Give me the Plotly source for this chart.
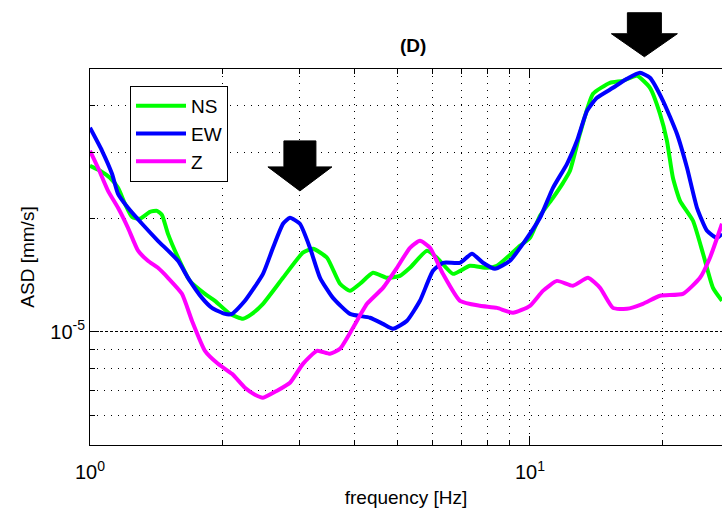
import numpy as np
import plotly.graph_objects as go

# ---------------- data ----------------
freq_ns = [1.000, 1.054, 1.110, 1.158, 1.201, 1.246, 1.299, 1.369, 1.420, 1.457,
           1.504, 1.602, 1.687, 1.825, 1.923, 2.081, 2.227, 2.334, 2.473, 2.746,
           3.048, 3.213, 3.457, 3.700, 3.899, 4.108, 4.398, 4.732, 5.065, 5.337,
           5.833, 6.147, 6.683, 7.305, 7.985, 8.414, 9.490, 10.00, 10.54, 11.28,
           11.89, 12.33, 12.99, 13.91, 15.20, 16.27, 17.51, 18.74, 19.75, 20.48,
           21.13, 21.93, 23.47, 24.74, 26.06, 27.32]
asd_ns = [2.764e-5, 2.681e-5, 2.568e-5, 2.415e-5, 2.190e-5, 2.022e-5, 1.998e-5, 2.085e-5, 2.098e-5, 2.047e-5,
          1.822e-5, 1.535e-5, 1.366e-5, 1.262e-5, 1.209e-5, 1.116e-5, 1.083e-5, 1.116e-5, 1.187e-5, 1.392e-5,
          1.623e-5, 1.663e-5, 1.574e-5, 1.342e-5, 1.285e-5, 1.342e-5, 1.435e-5, 1.392e-5, 1.409e-5, 1.480e-5,
          1.643e-5, 1.574e-5, 1.426e-5, 1.498e-5, 1.480e-5, 1.498e-5, 1.693e-5, 1.778e-5, 2.035e-5, 2.272e-5,
          2.490e-5, 2.681e-5, 3.363e-5, 4.295e-5, 4.594e-5, 4.651e-5, 4.796e-5, 4.456e-5, 3.800e-5, 3.221e-5,
          2.568e-5, 2.231e-5, 1.974e-5, 1.613e-5, 1.309e-5, 1.209e-5]

freq_ew = [1.000, 1.065, 1.122, 1.158, 1.220, 1.313, 1.427, 1.585, 1.670, 1.797,
           1.893, 2.027, 2.102, 2.250, 2.473, 2.606, 2.746, 2.848, 3.000, 3.162,
           3.333, 3.566, 3.899, 4.329, 4.634, 4.883, 5.254, 5.623, 6.019, 6.343,
           6.933, 7.382, 7.820, 8.326, 9.006, 9.641, 10.54, 11.28, 12.14, 12.79,
           13.48, 14.20, 15.44, 16.61, 17.78, 18.74, 20.06, 21.58, 22.75, 23.97,
           25.26, 26.61, 27.32]
asd_ew = [3.488e-5, 3.030e-5, 2.632e-5, 2.328e-5, 2.137e-5, 1.938e-5, 1.746e-5, 1.545e-5, 1.392e-5, 1.231e-5,
          1.158e-5, 1.116e-5, 1.116e-5, 1.209e-5, 1.426e-5, 1.673e-5, 1.938e-5, 2.010e-5, 1.938e-5, 1.673e-5,
          1.392e-5, 1.231e-5, 1.116e-5, 1.090e-5, 1.050e-5, 1.019e-5, 1.070e-5, 1.209e-5, 1.453e-5, 1.526e-5,
          1.526e-5, 1.613e-5, 1.526e-5, 1.471e-5, 1.545e-5, 1.714e-5, 2.010e-5, 2.415e-5, 2.798e-5, 3.221e-5,
          3.870e-5, 4.192e-5, 4.456e-5, 4.708e-5, 4.885e-5, 4.737e-5, 4.115e-5, 3.363e-5, 2.731e-5, 2.137e-5,
          1.856e-5, 1.778e-5, 1.822e-5]

freq_z = [1.000, 1.043, 1.099, 1.158, 1.220, 1.286, 1.354, 1.427, 1.504, 1.618,
          1.705, 1.825, 1.954, 2.102, 2.250, 2.371, 2.473, 2.661, 2.848, 3.048,
          3.281, 3.511, 3.700, 3.961, 4.262, 4.634, 4.986, 5.337, 5.623, 5.926,
          6.343, 6.933, 7.698, 8.414, 9.149, 10.00, 10.70, 11.52, 12.52, 13.55,
          14.43, 15.44, 16.61, 18.06, 19.75, 22.27, 24.35, 25.65, 27.32]
asd_z = [3.030e-5, 2.731e-5, 2.371e-5, 2.137e-5, 1.890e-5, 1.643e-5, 1.545e-5, 1.480e-5, 1.392e-5, 1.262e-5,
         1.070e-5, 0.890e-5, 0.822e-5, 0.773e-5, 0.710e-5, 0.680e-5, 0.668e-5, 0.697e-5, 0.732e-5, 0.822e-5,
         0.890e-5, 0.874e-5, 0.901e-5, 1.025e-5, 1.187e-5, 1.309e-5, 1.480e-5, 1.673e-5, 1.746e-5, 1.673e-5,
         1.426e-5, 1.209e-5, 1.173e-5, 1.158e-5, 1.123e-5, 1.173e-5, 1.285e-5, 1.366e-5, 1.326e-5, 1.392e-5,
         1.309e-5, 1.158e-5, 1.151e-5, 1.187e-5, 1.247e-5, 1.262e-5, 1.392e-5, 1.574e-5, 1.938e-5]

series_names = ["NS", "EW", "Z"]
series_colors = ["#00ff00", "#0000ff", "#ff00ff"]

x_major = [1, 10]
x_major_text = ["10<sup>0</sup>", "10<sup>1</sup>"]
x_minor = [2, 3, 4, 5, 6, 7, 8, 9, 20]
y_major = [1e-5]
y_major_text = ["10<sup>-5</sup>"]
y_minor = [6e-6, 7e-6, 8e-6, 9e-6, 2e-5, 3e-5, 4e-5]

# markers (arrows) pointing at the two peaks
arrow_freq = [3.0, 18.2]
arrow_tip_asd = [2.37e-5, 5.39e-5]

# ---------------- layout constants ----------------
W_FIG, H_FIG = 722, 513
M_L, M_R, M_T, M_B = 90, 0, 69, 68
PW, PH = W_FIG - M_L - M_R, H_FIG - M_T - M_B
x_range = [0.0, float(np.log10(27.32))]
y_range = [float(np.log10(5e-6)), float(np.log10(5e-5))]
FONT = "Liberation Sans, Arial, Helvetica, sans-serif"

fig = go.Figure()
for name, fx, fy, col in zip(series_names, [freq_ns, freq_ew, freq_z],
                             [asd_ns, asd_ew, asd_z], series_colors):
    fig.add_trace(go.Scatter(x=fx, y=fy, mode="lines", name=name,
                             line=dict(color=col, width=4, shape="spline", smoothing=0.5)))

# arrows as shapes in paper coordinates
arrow_dims = [(32, 16, 24, 50), (33, 17, 23, 44)]  # head half width, body half width, head h, total h (px)
for f, a, (hw, bw, hh, th) in zip(arrow_freq, arrow_tip_asd, arrow_dims):
    xt = (np.log10(f) - x_range[0]) / (x_range[1] - x_range[0])
    yt = (np.log10(a) - y_range[0]) / (y_range[1] - y_range[0])
    pts = [(0, 0), (-hw, hh), (-bw, hh), (-bw, th), (bw, th), (bw, hh), (hw, hh)]
    path = "M " + " L ".join(f"{xt + px / PW:.5f},{yt + py / PH:.5f}" for px, py in pts) + " Z"
    fig.add_shape(type="path", path=path, xref="paper", yref="paper",
                  fillcolor="black", line=dict(color="black", width=1))

fig.add_annotation(text="<b>(D)</b>", x=(413 - M_L) / PW, y=(H_FIG - M_B - 45) / PH,
                   xref="paper", yref="paper", showarrow=False,
                   font=dict(size=19, color="black", family=FONT), yanchor="middle")

axis_common = dict(showline=True, linecolor="black", linewidth=1,
                   ticks="inside", ticklen=9, tickcolor="black",
                   showgrid=True, gridcolor="black", gridwidth=1, zeroline=False,
                   tickfont=dict(size=20, color="black", family=FONT))

fig.update_xaxes(type="log", range=x_range, tickmode="array", tickvals=x_major,
                 ticktext=x_major_text, mirror="ticks", griddash="1px,6px",
                 ticklabelstandoff=9,
                 minor=dict(tickmode="array", tickvals=x_minor, ticks="inside", ticklen=5,
                            tickcolor="black", showgrid=True, gridcolor="black",
                            griddash="1px,6px", gridwidth=1),
                 title=dict(text="frequency [Hz]", font=dict(size=19, color="black", family=FONT),
                            standoff=8),
                 **axis_common)
fig.update_yaxes(type="log", range=y_range, tickmode="array", tickvals=y_major,
                 ticktext=y_major_text, griddash="3px,2px",
                 minor=dict(tickmode="array", tickvals=y_minor, ticks="inside", ticklen=5,
                            tickcolor="black", showgrid=True, gridcolor="black",
                            griddash="1px,6px", gridwidth=1),
                 title=dict(text="ASD [mm/s]", font=dict(size=19, color="black", family=FONT),
                            standoff=10),
                 **axis_common)

fig.update_layout(
    width=W_FIG, height=H_FIG,
    margin=dict(l=M_L, r=M_R, t=M_T, b=M_B, pad=0),
    paper_bgcolor="white", plot_bgcolor="white",
    font=dict(family=FONT, color="black", size=19),
    showlegend=True,
    legend=dict(x=(130 - M_L) / PW, y=(H_FIG - M_B - 86) / PH, xanchor="left", yanchor="top",
                bgcolor="white", bordercolor="black", borderwidth=1,
                font=dict(size=19, color="black", family=FONT),
                itemwidth=50, tracegroupgap=0),
)

fig.write_html("out.html")
